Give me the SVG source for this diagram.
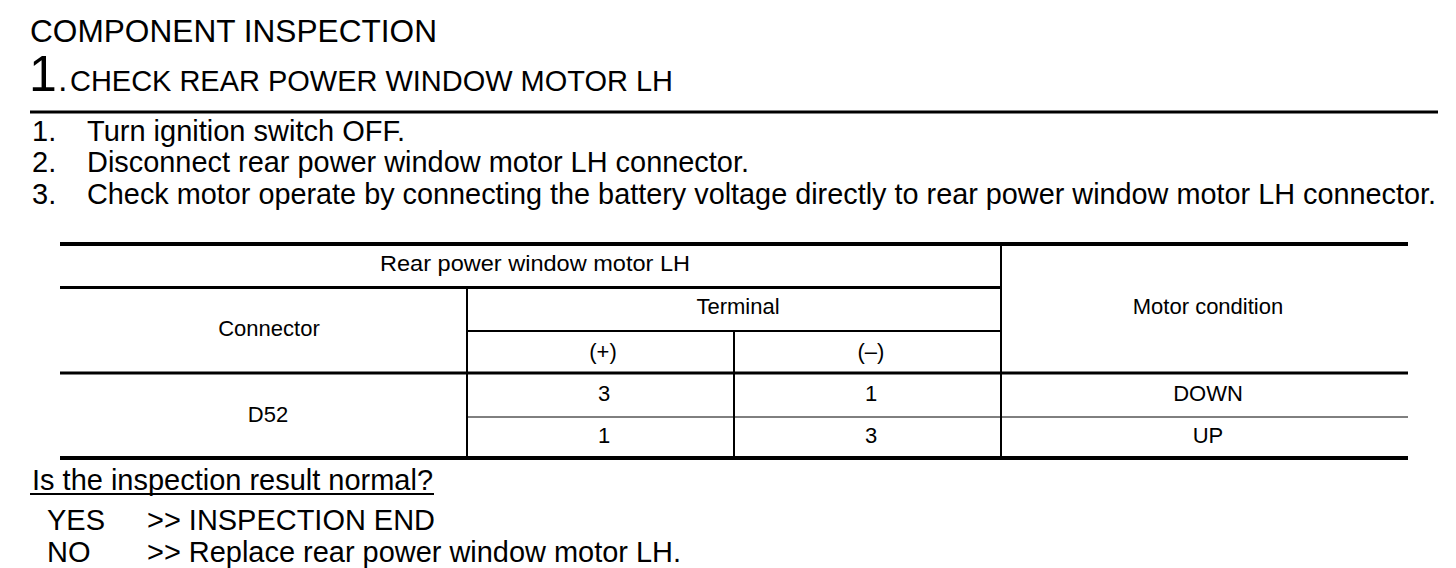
<svg xmlns="http://www.w3.org/2000/svg" width="1456" height="568" viewBox="0 0 1456 568">
<style>
text{font-family:"Liberation Sans",Arial,sans-serif;fill:#000}
.h1{font-size:31px}
.big{font-size:50px}
.h2{font-size:29px}
.li{font-size:29px}
.t{font-size:22px;text-anchor:middle}
.ln{stroke:#000;fill:none}
</style>
<rect width="1456" height="568" fill="#fff"/>
<g id="header">
<text class="h1" x="30" y="42" textLength="407" lengthAdjust="spacingAndGlyphs">COMPONENT INSPECTION</text>
<text class="big" x="29" y="91">1</text>
<text class="h2" x="58" y="91" style="font-size:34px">.</text>
<text class="h2" x="70" y="91" textLength="603" lengthAdjust="spacingAndGlyphs">CHECK REAR POWER WINDOW MOTOR LH</text>
<line class="ln" x1="30" y1="112" x2="1438" y2="112" stroke-width="3"/>
</g>
<g id="steps">
<text class="li" x="32" y="141">1.</text>
<text class="li" x="87" y="141" textLength="318" lengthAdjust="spacingAndGlyphs">Turn ignition switch OFF.</text>
<text class="li" x="32" y="172">2.</text>
<text class="li" x="87" y="172" textLength="662" lengthAdjust="spacingAndGlyphs">Disconnect rear power window motor LH connector.</text>
<text class="li" x="32" y="204">3.</text>
<text class="li" x="87" y="204" textLength="1349" lengthAdjust="spacingAndGlyphs">Check motor operate by connecting the battery voltage directly to rear power window motor LH connector.</text>
</g>
<g id="table">
<line class="ln" x1="60" y1="244" x2="1408" y2="244" stroke-width="4"/>
<line class="ln" x1="60" y1="287.5" x2="1001" y2="287.5" stroke-width="3"/>
<line class="ln" x1="467" y1="331" x2="1001" y2="331" stroke-width="2"/>
<line class="ln" x1="60" y1="373" x2="1408" y2="373" stroke-width="3"/>
<line class="ln" x1="467" y1="417" x2="1408" y2="417" stroke-width="1"/>
<line class="ln" x1="60" y1="458" x2="1408" y2="458" stroke-width="4"/>
<line class="ln" x1="467" y1="287" x2="467" y2="458" stroke-width="2"/>
<line class="ln" x1="734" y1="331" x2="734" y2="458" stroke-width="2"/>
<line class="ln" x1="1001" y1="244" x2="1001" y2="458" stroke-width="2"/>
<text class="t" x="535" y="271" textLength="310" lengthAdjust="spacingAndGlyphs">Rear power window motor LH</text>
<text class="t" x="738" y="314">Terminal</text>
<text class="t" x="269" y="336">Connector</text>
<text class="t" x="1208" y="314">Motor condition</text>
<text class="t" x="603" y="359">(+)</text>
<text class="t" x="871" y="359">(–)</text>
<text class="t" x="268" y="422">D52</text>
<text class="t" x="604" y="401">3</text>
<text class="t" x="871" y="401">1</text>
<text class="t" x="1208" y="401">DOWN</text>
<text class="t" x="604" y="443">1</text>
<text class="t" x="871" y="443">3</text>
<text class="t" x="1208" y="443">UP</text>
</g>
<g id="result">
<text class="li" x="32" y="490" textLength="401" lengthAdjust="spacingAndGlyphs">Is the inspection result normal?</text>
<line class="ln" x1="30" y1="494" x2="434" y2="494" stroke-width="2"/>
<text class="li" x="47" y="530">YES</text>
<text class="li" x="147" y="530" textLength="288" lengthAdjust="spacingAndGlyphs">&gt;&gt; INSPECTION END</text>
<text class="li" x="47" y="562">NO</text>
<text class="li" x="147" y="562" textLength="534" lengthAdjust="spacingAndGlyphs">&gt;&gt; Replace rear power window motor LH.</text>
</g>
</svg>
